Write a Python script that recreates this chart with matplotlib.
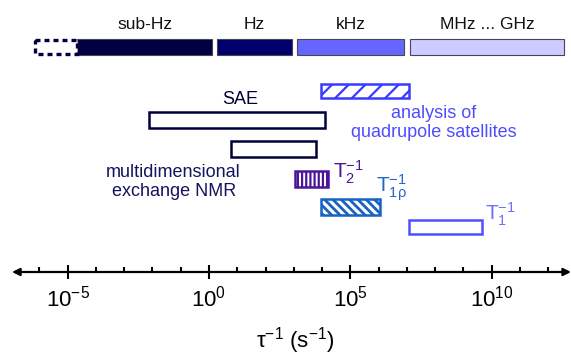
import numpy as np
import matplotlib
matplotlib.use("Agg")
import matplotlib.pyplot as plt
from matplotlib.ticker import FixedLocator, LogFormatterMathtext, NullFormatter

plt.rcParams['font.family'] = 'Liberation Sans'
plt.rcParams['mathtext.fontset'] = 'custom'
plt.rcParams['mathtext.rm'] = 'Liberation Sans'
plt.rcParams['mathtext.it'] = 'Liberation Sans:italic'
plt.rcParams['mathtext.bf'] = 'Liberation Sans:bold'

# frequency bands on top (log10 of rate, s^-1)
band_names = ['sub-Hz', 'Hz', 'kHz', 'MHz ... GHz']
band_lo = [-4.67, 0.28, 3.11, 7.11]
band_hi = [0.11, 2.94, 6.90, 12.56]
band_colors = ['#000040', '#00006b', '#6666ff', '#ccccff']
dashed_lo, dashed_hi = -6.16, -4.67

# methods (log10 of rate range)
methods = ['quadrupole', 'SAE', 'exchange', 'T2', 'T1rho', 'T1']
meth_lo = [3.96, -2.12, 0.78, 3.04, 3.96, 7.08]
meth_hi = [7.08, 4.10, 3.79, 4.21, 6.05, 9.66]

major_exp = [-5, 0, 5, 10]
minor_exp = np.arange(-6, 13)

# layout (figure pixels, y downward)
meth_y = [84, 112, 141, 171, 199, 220]
meth_h = [14, 16, 16, 16, 16, 14]
meth_edge = ['#3a3aff', '#00003a', '#00003a', '#4b1599', '#1763c4', '#4f4fff']
meth_hatch = ['//', None, None, '||||', '\\\\\\\\', None]

fig = plt.figure(figsize=(5.71, 3.56), dpi=100)
ax = fig.add_axes([0, 0, 1, 1])
ax.set_xscale('log')
x0 = 10 ** (-209 / 28.26)
x1 = 10 ** ((571 - 209) / 28.26)
ax.set_xlim(x0, x1)
ax.set_ylim(356, 0)
ax.patch.set_visible(False)

# top bands
lo = 10.0 ** np.array(band_lo)
hi = 10.0 ** np.array(band_hi)
ax.barh([47] * 4, hi - lo, left=lo, height=16, color=band_colors,
        edgecolor='#44445a', linewidth=0.8)
ax.barh(47, 10 ** dashed_hi - 10 ** dashed_lo, left=10 ** dashed_lo, height=14,
        facecolor='white', edgecolor='#000040', linewidth=2.4, linestyle=(0, (1.5, 1.2)))
for name, a, b in zip(band_names, band_lo, band_hi):
    ax.text(10 ** ((a + b) / 2), 29, name, ha='center', va='baseline',
            fontsize=12.5, color='#111111')

# method boxes
for i in range(len(methods)):
    a, b = 10 ** meth_lo[i], 10 ** meth_hi[i]
    bars = ax.barh(meth_y[i] + meth_h[i] / 2, b - a, left=a, height=meth_h[i],
                   facecolor='white', edgecolor=meth_edge[i], linewidth=1.8,
                   hatch=meth_hatch[i])
    if meth_hatch[i] is not None:
        for p in bars:
            if hasattr(p, 'set_hatch_linewidth'):
                p.set_hatch_linewidth(2.0 if methods[i] == 'T1rho' else 1.6)

ax.text(10 ** 1.1, 104, 'SAE', ha='center', va='baseline', fontsize=13, color='#000033')
ax.text(10 ** 7.96, 118, 'analysis of', ha='center', va='baseline', fontsize=13, color='#4d4dff')
ax.text(10 ** 7.96, 137, 'quadrupole satellites', ha='center', va='baseline', fontsize=13, color='#4d4dff')
ax.text(10 ** -1.27, 177, 'multidimensional', ha='center', va='baseline', fontsize=13, color='#14145e')
ax.text(10 ** -1.24, 196, 'exchange NMR', ha='center', va='baseline', fontsize=13, color='#14145e')
ax.text(10 ** ((333 - 209) / 28.26), 178, r'T$_2^{-1}$', ha='left', va='baseline',
        fontsize=15, color='#4b1599')
ax.text(10 ** ((376 - 209) / 28.26), 192, r'T$_{1\mathrm{\rho}}^{-1}$', ha='left', va='baseline',
        fontsize=15, color='#2266cc')
ax.text(10 ** ((485 - 209) / 28.26), 220, r'T$_1^{-1}$', ha='left', va='baseline',
        fontsize=15, color='#6f6fff')

# axis
for s in ['left', 'right', 'top']:
    ax.spines[s].set_visible(False)
ax.spines['bottom'].set_position(('data', 272))
ax.spines['bottom'].set_visible(False)
ax.annotate('', xy=(10 ** -6.97, 272), xytext=(x1 * 0.999, 272),
            arrowprops=dict(arrowstyle='<|-|>', lw=1.6, color='black',
                            shrinkA=0, shrinkB=0, mutation_scale=11))
ax.xaxis.set_major_locator(FixedLocator(10.0 ** np.array(major_exp)))
ax.xaxis.set_minor_locator(FixedLocator(10.0 ** minor_exp))
ax.xaxis.set_major_formatter(LogFormatterMathtext())
ax.xaxis.set_minor_formatter(NullFormatter())
ax.tick_params(axis='x', which='major', direction='inout', length=10, width=1.5,
               labelsize=16, pad=5)
ax.tick_params(axis='x', which='minor', direction='in', length=3.8, width=1.5)
ax.yaxis.set_visible(False)

ax.text(10 ** ((295 - 209) / 28.26), 347, 'τ$^{-1}$ (s$^{-1}$)', ha='center', va='baseline',
        fontsize=16, color='black')

fig.savefig('out.png', dpi=100)
